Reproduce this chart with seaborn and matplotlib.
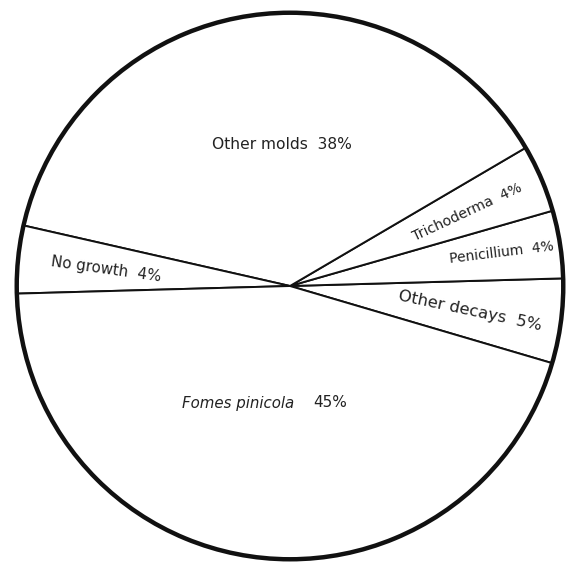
import matplotlib
matplotlib.use("Agg")
import matplotlib.pyplot as plt
import seaborn as sns

# ---- data ----
categories = ["Other decays", "Penicillium", "Trichoderma", "Other molds", "No growth", "Fomes pinicola"]
percents = [5, 4, 4, 38, 4, 45]

# ---- layout (label placement in pixel coords of the 578x565 figure) ----
label_px = {
    "Other molds": (282, 143, 0, 11.2),
    "Trichoderma": (469, 211, 25, 10.2),
    "Penicillium": (504, 252, 7, 10.0),
    "Other decays": (472, 311, -12, 11.8),
    "No growth": (104, 269, -8, 10.8),
}

sns.set_style("white")
plt.rcParams["font.family"] = ["DejaVu Sans"]

W, H = 578, 565
CX, CY, R = 290, 286, 276
fig = plt.figure(figsize=(W / 100, H / 100), dpi=100)
ax = fig.add_axes([(CX - R) / W, (H - CY - R) / H, 2 * R / W, 2 * R / H])

colors = sns.color_palette(["#ffffff"] * len(percents))
ax.pie(percents, startangle=-16.4, counterclock=True, colors=colors,
       radius=1, wedgeprops=dict(edgecolor="#111111", linewidth=1.4))
# heavier outer rim
ax.pie([sum(percents)], radius=1, colors=["#ffffff"],
       wedgeprops=dict(fill=False, edgecolor="#111111", linewidth=3.2))
ax.set_xlim(-1.01, 1.01)
ax.set_ylim(-1.01, 1.01)
ax.set_aspect("equal")
ax.axis("off")


def to_data(px, py):
    return (px - CX) / R, (CY - py) / R


pct = dict(zip(categories, percents))
text_kw = dict(color="#222222", ha="center", va="center")
for name, (px, py, rot, size) in label_px.items():
    x, y = to_data(px, py)
    ax.text(x, y, f"{name}  {pct[name]}%", rotation=rot, fontsize=size,
            rotation_mode="anchor", **text_kw)

# Fomes pinicola label: italic name, upright percent
x, y = to_data(294, 405)
ax.text(x, y, "Fomes pinicola", style="italic", fontsize=10.8, color="#222222",
        ha="right", va="center")
x, y = to_data(313, 404)
ax.text(x, y, f"{pct['Fomes pinicola']}%", fontsize=11, color="#222222",
        ha="left", va="center")

fig.savefig("out.png", dpi=100, facecolor="white")
